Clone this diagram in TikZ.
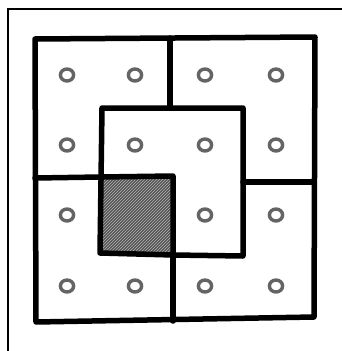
\documentclass[tikz,border=0pt]{standalone}
\usetikzlibrary{patterns}
\definecolor{ringgray}{RGB}{100,100,100}
\definecolor{hatchdark}{RGB}{85,85,85}
\tikzset{
  wall/.style={line width=5.5pt, line cap=round, line join=round, black},
  frameline/.style={line width=1.3pt, black},
  ring/.style={draw=ringgray, line width=3.4pt},
}
\begin{document}
\begin{tikzpicture}[x=1pt,y=-1pt]
\useasboundingbox (0,0) rectangle (342,351);
\fill[white] (0,0) rectangle (342,351);
% outer sheet frame (only left and top visible)
\draw[frameline] (8,351) -- (8,9) -- (342,9);
% hatched cell
\fill[hatchdark] (101,177) -- (173,176) -- (173,255) -- (100,253) -- cycle;
\fill[pattern=north east lines, pattern color=gray!60] (101,177) -- (173,176) -- (173,255) -- (100,253) -- cycle;
% outer square
\draw[wall] (35,39) -- (315,37) -- (314,317) -- (36,322) -- cycle;
% top middle vertical
\draw[wall] (170,38) -- (170,108);
% inner square
\draw[wall] (102,108) -- (243,108) -- (243,256) -- (173,255) -- (100,253) -- cycle;
% left horizontal
\draw[wall] (35,178) -- (101,177);
% hatched cell edges
\draw[wall] (101,177) -- (173,176) -- (173,255);
% right horizontal
\draw[wall] (243,182) -- (314,182);
% bottom vertical
\draw[wall] (173,255) -- (173,321);
% rings
\foreach \x/\y in {67/75,135/75,205/75,276/75,
                   67/145,135/145,205/145,276/145,
                   67/215,205/215,276/215,
                   67/286,135/286,205/286,276/286}
  \draw[ring] (\x,\y) ellipse [x radius=6.6, y radius=6.0];
\end{tikzpicture}
\end{document}
